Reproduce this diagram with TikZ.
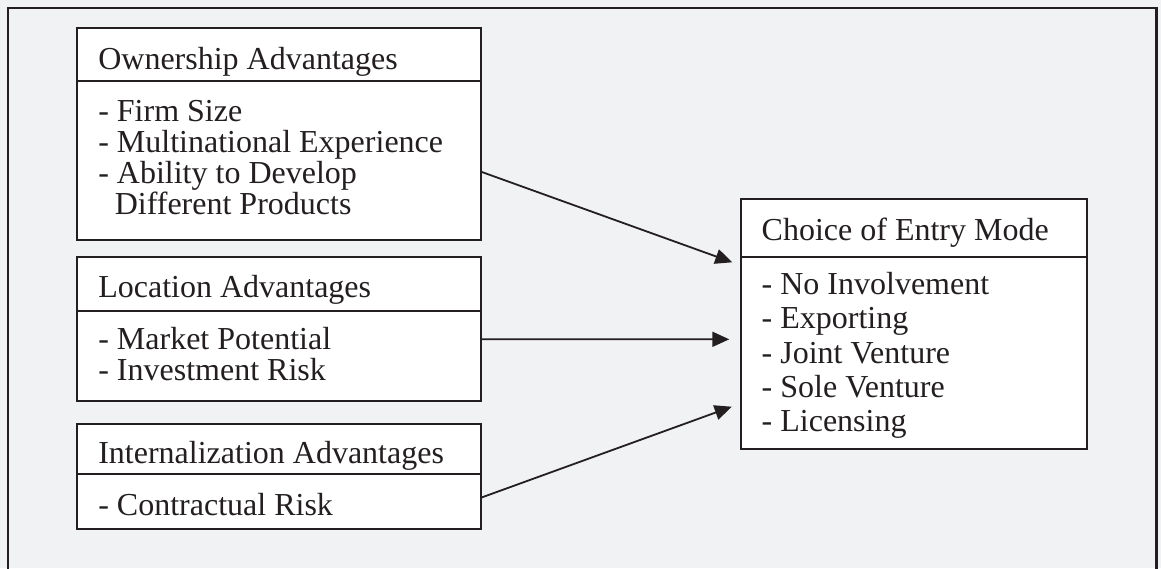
\documentclass[tikz,border=0pt]{standalone}
\usepackage{fontspec}
\setmainfont{Liberation Serif}
\usetikzlibrary{arrows.meta}
\definecolor{ink}{HTML}{231F20}
\definecolor{paper}{HTML}{F1F2F4}

\begin{document}
\begin{tikzpicture}[x=1pt,y=-1pt,
  panel/.style={draw=ink,line width=2pt,fill=white,inner sep=0pt,outer sep=0pt},
  caption/.style={anchor=base west,inner sep=0pt,outer sep=0pt,text=ink,
    font=\fontsize{32}{31.3}\selectfont},
  itemlist/.style={caption,text width=#1,align=left,
    execute at begin node={\spaceskip=\fontdimen2\font\relax}},
  itemlist/.default=370pt,
  link/.style={draw=ink,line width=1.8pt,-{Triangle[length=17pt,width=15pt]}}]

% page background and frame (open at the bottom)
\fill[paper] (0,0) rectangle (1161,568);
\useasboundingbox (0,0) rectangle (1161,568);
\draw[ink,line width=2.5pt] (8,590) -- (8,8) -- (1156.5,8) -- (1156.5,590);

% ownership advantages
\node[panel,minimum width=404pt,minimum height=159.3pt] (ownbody) at (279,160.35) {};
\node[panel,minimum width=404pt,minimum height=52.4pt] (ownhead) at (279,54.5) {};
\node[caption] (owntitle) at (98.3,69) {Ownership Advantages};
\node[itemlist] (ownitems) at (98.3,121) {- Firm Size\\- Multinational Experience\\- Ability to Develop\\\hspace*{16.5pt}Different Products};

% location advantages
\node[panel,minimum width=404pt,minimum height=90.3pt] (locbody) at (279,355.85) {};
\node[panel,minimum width=404pt,minimum height=53.4pt] (lochead) at (279,284) {};
\node[caption] (loctitle) at (98.3,297.3) {Location Advantages};
\node[itemlist,font=\fontsize{32}{31.7}\selectfont] (locitems) at (98.3,349) {- Market Potential\\- Investment Risk};

% internalization advantages
\node[panel,minimum width=404pt,minimum height=55.3pt] (intbody) at (279,501.65) {};
\node[panel,minimum width=404pt,minimum height=50pt] (inthead) at (279,449) {};
\node[caption] (inttitle) at (98.3,463.3) {Internalization Advantages};
\node[itemlist] (intitems) at (98.3,515) {- Contractual Risk};

% choice of entry mode
\node[panel,minimum width=346pt,minimum height=191.7pt] (choicebody) at (913.7,353.15) {};
\node[panel,minimum width=346pt,minimum height=58pt] (choicehead) at (913.7,228.3) {};
\node[caption] (choicetitle) at (761.7,240) {Choice of Entry Mode};
\node[itemlist=310pt,font=\fontsize{32}{34.35}\selectfont] (choiceitems) at (761.7,294.3)
  {- No Involvement\\- Exporting\\- Joint Venture\\- Sole Venture\\- Licensing};

% connectors
\draw[link] ([yshift=-11.35pt]ownbody.east) -- ([xshift=-8.4pt,yshift=90.85pt]choicebody.west);
\draw[link] ([yshift=16.55pt]locbody.east) -- ([xshift=-11.4pt,yshift=13.85pt]choicebody.west);
\draw[link] ([yshift=3.95pt]intbody.east) -- ([xshift=-9pt,yshift=-53.55pt]choicebody.west);
\end{tikzpicture}
\end{document}
